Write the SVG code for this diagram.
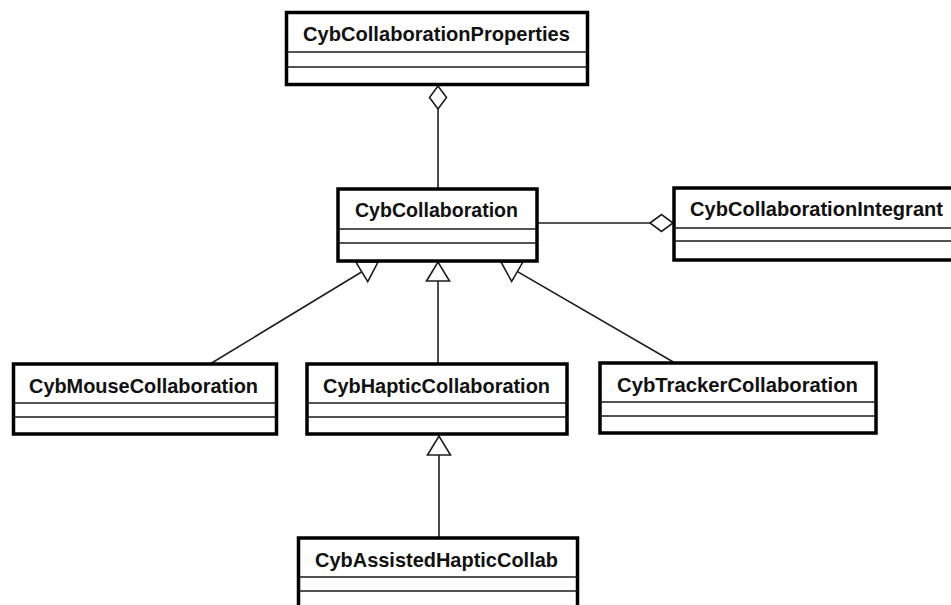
<svg xmlns="http://www.w3.org/2000/svg" width="951" height="605" viewBox="0 0 951 605">
  <style>
    .box { fill: #ffffff; stroke: #000000; stroke-width: 3.5; }
    .div { stroke: #1a1a1a; stroke-width: 1.6; fill: none; }
    .name { font-family: "Liberation Sans", Arial, sans-serif; font-weight: bold; font-size: 20.5px; fill: #111111; text-anchor: middle; }
    .link { stroke: #1e1e1e; stroke-width: 1.6; fill: none; }
    .gen { marker-end: url(#generalization); }
    .agg { marker-end: url(#aggregation); }
  </style>
  <defs>
    <!-- hollow triangle for inheritance, tip at the parent border -->
    <marker id="generalization" markerUnits="userSpaceOnUse" viewBox="-1 -13 22 26" markerWidth="22" markerHeight="26" refX="19" refY="0" orient="auto">
      <path d="M0,-11.5 L19,0 L0,11.5 Z" fill="#ffffff" stroke="#1e1e1e" stroke-width="1.6"/>
    </marker>
    <!-- hollow diamond for aggregation, tip at the whole's border -->
    <marker id="aggregation" markerUnits="userSpaceOnUse" viewBox="-1 -10 25 20" markerWidth="25" markerHeight="20" refX="23" refY="0" orient="auto">
      <path d="M0,0 L11.5,-8.5 L23,0 L11.5,8.5 Z" fill="#ffffff" stroke="#1e1e1e" stroke-width="1.6"/>
    </marker>
  </defs>

  <rect width="951" height="605" fill="#ffffff"/>

  <g id="connectors">
    <line class="link agg" x1="438" y1="189" x2="438" y2="86"/>
    <line class="link agg" x1="537" y1="223" x2="673" y2="223"/>
    <line class="link gen" x1="210" y1="364" x2="378" y2="262"/>
    <line class="link gen" x1="438" y1="364" x2="438" y2="262"/>
    <line class="link gen" x1="675" y1="363" x2="501" y2="262"/>
    <line class="link gen" x1="439" y1="538" x2="439" y2="436"/>
  </g>

  <g id="CybCollaborationProperties">
    <rect class="box" x="286.5" y="12.5" width="301" height="72"/>
    <line class="div" x1="286.5" y1="52" x2="587.5" y2="52"/>
    <line class="div" x1="286.5" y1="67" x2="587.5" y2="67"/>
    <text class="name" x="436.5" y="41" textLength="267" lengthAdjust="spacingAndGlyphs">CybCollaborationProperties</text>
  </g>

  <g id="CybCollaboration">
    <rect class="box" x="338" y="189" width="199" height="72"/>
    <line class="div" x1="338" y1="229" x2="537" y2="229"/>
    <line class="div" x1="338" y1="243" x2="537" y2="243"/>
    <text class="name" x="436.5" y="217" textLength="163" lengthAdjust="spacingAndGlyphs">CybCollaboration</text>
  </g>

  <g id="CybCollaborationIntegrant">
    <rect class="box" x="674" y="188" width="290" height="72"/>
    <line class="div" x1="674" y1="228" x2="964" y2="228"/>
    <line class="div" x1="674" y1="241" x2="964" y2="241"/>
    <text class="name" x="816.5" y="216" textLength="253" lengthAdjust="spacingAndGlyphs">CybCollaborationIntegrant</text>
  </g>

  <g id="CybMouseCollaboration">
    <rect class="box" x="13.5" y="364" width="263" height="70"/>
    <line class="div" x1="13.5" y1="403" x2="276.5" y2="403"/>
    <line class="div" x1="13.5" y1="417" x2="276.5" y2="417"/>
    <text class="name" x="143.5" y="393" textLength="229" lengthAdjust="spacingAndGlyphs">CybMouseCollaboration</text>
  </g>

  <g id="CybHapticCollaboration">
    <rect class="box" x="307" y="364" width="260" height="70"/>
    <line class="div" x1="307" y1="403" x2="567" y2="403"/>
    <line class="div" x1="307" y1="417" x2="567" y2="417"/>
    <text class="name" x="436.5" y="393" textLength="227" lengthAdjust="spacingAndGlyphs">CybHapticCollaboration</text>
  </g>

  <g id="CybTrackerCollaboration">
    <rect class="box" x="600" y="363" width="276" height="70"/>
    <line class="div" x1="600" y1="402" x2="876" y2="402"/>
    <line class="div" x1="600" y1="416" x2="876" y2="416"/>
    <text class="name" x="737.5" y="392" textLength="241" lengthAdjust="spacingAndGlyphs">CybTrackerCollaboration</text>
  </g>

  <g id="CybAssistedHapticCollab">
    <rect class="box" x="298.5" y="538" width="279" height="72"/>
    <line class="div" x1="298.5" y1="577" x2="577.5" y2="577"/>
    <line class="div" x1="298.5" y1="591" x2="577.5" y2="591"/>
    <text class="name" x="436.5" y="567" textLength="243" lengthAdjust="spacingAndGlyphs">CybAssistedHapticCollab</text>
  </g>
</svg>
